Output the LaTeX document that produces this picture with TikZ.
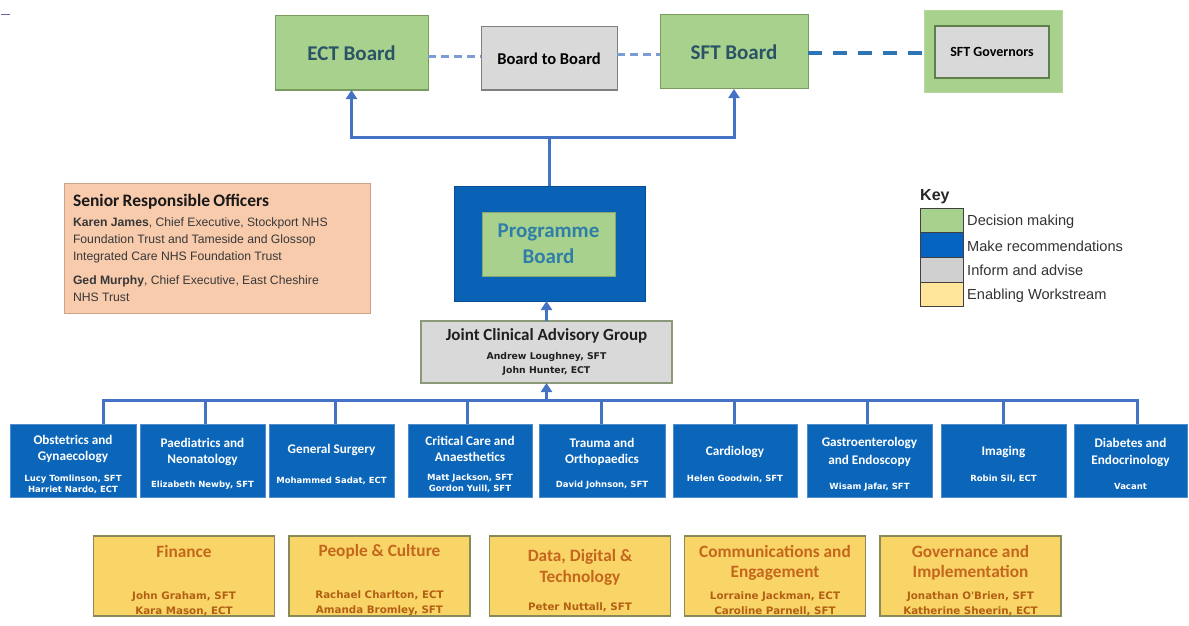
\documentclass[tikz,border=0pt]{standalone}
\usepackage{fontspec}
\setmainfont{Carlito}
\newfontfamily\arialf{Liberation Sans}
\newfontfamily\namef{DejaVu Sans}
\usetikzlibrary{arrows.meta}

\definecolor{decfill}{HTML}{A9D18E}
\definecolor{decedge}{HTML}{7A9B5E}
\definecolor{boardtext}{HTML}{2A5466}
\definecolor{progtext}{HTML}{2F7EA6}
\definecolor{infofill}{HTML}{D9D9D9}
\definecolor{infoedge}{HTML}{808080}
\definecolor{jcagedge}{HTML}{8A9A78}
\definecolor{govedge}{HTML}{5F7F4A}
\definecolor{recfill}{HTML}{0B66BA}
\definecolor{recedge}{HTML}{4F8CCB}
\definecolor{pbfill}{HTML}{0A62B6}
\definecolor{enfill}{HTML}{F9D568}
\definecolor{enedge}{HTML}{8A8A58}
\definecolor{entitle}{HTML}{C4661C}
\definecolor{enname}{HTML}{B35F14}
\definecolor{srofill}{HTML}{F8CBAD}
\definecolor{sroedge}{HTML}{C9A488}
\definecolor{linkblue}{HTML}{4472C4}
\definecolor{dashlight}{HTML}{7C9CD4}
\definecolor{dashdark}{HTML}{2E75B6}
\definecolor{keyyellow}{HTML}{FFE699}
\definecolor{keyblue}{HTML}{0563C1}
\definecolor{keygray}{HTML}{D0D0D0}

% title lines inside the boxes
\newcommand\sptitle[1]{{\rmfamily\bfseries\fontsize{13.2}{11}\selectfont #1}}
\newcommand\wstitle[1]{{\rmfamily\bfseries\fontsize{17.3}{15}\selectfont\color{entitle}#1}}

\tikzset{
  box/.style={draw, line width=1pt, inner sep=0pt, outer sep=0pt, align=center},
  decision/.style={box, fill=decfill, draw=decedge, text=boardtext,
    font=\fontsize{21}{24}\selectfont\bfseries},
  specialty/.style={box, fill=recfill, draw=recedge, minimum height=73pt},
  sptext/.style={inner sep=0pt, align=center, text=white,
    font=\namef\bfseries\fontsize{8.5}{11}\selectfont},
  workstream/.style={box, fill=enfill, draw=enedge, line width=1.5pt,
    minimum width=181pt, minimum height=80pt},
  wstext/.style={inner sep=0pt, align=center, text=enname,
    font=\namef\bfseries\fontsize{10.3}{15}\selectfont},
  swatch/.style={draw=black!75, line width=1pt, inner sep=0pt, outer sep=0pt,
    minimum width=43pt, minimum height=24.75pt},
  keylabel/.style={anchor=west, inner sep=0pt, text=black!80,
    font=\arialf\fontsize{14.6}{16}\selectfont},
  link/.style={draw=linkblue, line width=3pt},
  tip/.style={-{Triangle[width=11pt,length=9pt]}},
  lightdash/.style={draw=dashlight, line width=3pt, dash pattern=on 8pt off 5pt},
  darkdash/.style={draw=dashdark, line width=4.5pt, dash pattern=on 14pt off 11pt},
}

% a specialty box and its text, set a little below the box centre
\newcommand\specbox[4]{%
  \node[specialty, minimum width=#3] (#1) at (#2) {};
  \node[sptext] (#1-text) at ([yshift=-3.5pt]#1.center) {#4};}
% a workstream box and its text
\newcommand\wsbox[3]{%
  \node[workstream] (#1) at (#2) {};
  \node[wstext] (#1-text) at ([yshift=-4.5pt]#1.center) {#3};}

\begin{document}
\begin{tikzpicture}[x=1pt,y=-1pt]
\useasboundingbox[fill=white] (0,0) rectangle (1189,626);

% small mark in the top left corner
\draw[draw=black!55!blue!60, line width=1.5pt] (1,14.5) -- (10,14.5);

% ---- boards ----
\node[decision, minimum width=153pt, minimum height=74pt] (ect) at (351.5,53) {ECT Board};
\node[box, fill=infofill, draw=infoedge, minimum width=136pt, minimum height=63pt,
      font=\fontsize{16.5}{18}\selectfont\bfseries] (btb) at (549,58.5) {Board to Board};
\node[decision, minimum width=148pt, minimum height=74pt] (sft) at (734,52) {SFT Board};
\node[box, fill=decfill, draw=decfill!85!white, minimum width=138pt, minimum height=81pt] (govo) at (993,51.5) {};
\node[box, fill=infofill, draw=govedge, line width=1.5pt, minimum width=114pt, minimum height=52pt,
      font=\fontsize{14}{16}\selectfont\bfseries] (gov) at (992,52) {SFT Governors};

\coordinate (dashA) at (0,57);
\coordinate (dashB) at (0,55);
\coordinate (dashC) at (0,53);
\draw[lightdash] (ect.east |- dashA) -- (btb.west |- dashA);
\draw[lightdash] (btb.east |- dashB) -- (sft.west |- dashB);
\draw[darkdash] (sft.east |- dashC) -- (govo.west |- dashC);

% ---- programme board ----
\node[box, fill=pbfill, draw=pbfill!80!black, minimum width=191pt, minimum height=115pt] (pb) at (549.5,243.5) {};
\node[box, fill=decfill, draw=decfill!80!black, minimum width=133pt, minimum height=64pt,
      text=progtext, font=\fontsize{21}{26}\selectfont\bfseries] (pbin) at (548.5,244) {Programme\\Board};

\coordinate (fork) at (549.5,137);
\draw[link] (pb.north) -- (fork);
\draw[link, tip] (fork) -| (ect.south);
\draw[link, tip] (fork) -| (sft.south);

% ---- senior responsible officers ----
\node[box, fill=srofill, draw=sroedge, anchor=north west, minimum width=306pt, minimum height=130pt,
      text width=288pt, inner xsep=9pt, align=left, text=black!78] (sro) at (64,183) {%
  {\fontsize{17.5}{19}\selectfont\bfseries\color{black!90}Senior Responsible Officers\par}
  \vskip 3pt
  {\arialf\fontsize{12.2}{17}\selectfont\textbf{Karen James}, Chief Executive, Stockport NHS\\
   Foundation Trust and Tameside and Glossop\\
   Integrated Care NHS Foundation Trust\par}
  \vskip 7pt
  {\arialf\fontsize{12.2}{17}\selectfont\textbf{Ged Murphy}, Chief Executive, East Cheshire\\
   NHS Trust\par}};

% ---- key ----
\node[anchor=west, inner sep=0pt, font=\arialf\bfseries\fontsize{16}{18}\selectfont, text=black!85] (keyhead) at (920,197) {Key};
\node[swatch, fill=decfill]   (k1) at (941.5,220.4) {};
\node[swatch, fill=keyblue]   (k2) at (941.5,245.1) {};
\node[swatch, fill=keygray]   (k3) at (941.5,269.9) {};
\node[swatch, fill=keyyellow] (k4) at (941.5,294.6) {};
\node[keylabel] (kl1) at (967,221.5) {Decision making};
\node[keylabel] (kl2) at (967,246) {Make recommendations};
\node[keylabel] (kl3) at (967,270.5) {Inform and advise};
\node[keylabel] (kl4) at (967,295.5) {Enabling Workstream};

% ---- joint clinical advisory group ----
\node[box, fill=infofill, draw=jcagedge, line width=1.5pt, minimum width=251pt, minimum height=62pt,
      text=black!88, font=\namef\bfseries\fontsize{9.3}{14}\selectfont] (jcag) at (546.5,352)
  {{\rmfamily\bfseries\fontsize{17}{14}\selectfont Joint Clinical Advisory Group}\\[5pt]
   Andrew Loughney, SFT\\John Hunter, ECT};
\draw[link, tip] (jcag.north) -- (jcag.north |- pb.south);

% ---- clinical specialties ----
\specbox{ob}{73,460.5}{126pt}
  {\sptitle{Obstetrics and}\\[5pt]\sptitle{Gynaecology}\\[10pt]Lucy Tomlinson, SFT\\Harriet Nardo, ECT}
\specbox{pa}{202.5,460.5}{125pt}
  {\sptitle{Paediatrics and}\\[5pt]\sptitle{Neonatology}\\[13pt]Elizabeth Newby, SFT}
\specbox{gs}{331.5,460.5}{125pt}
  {\sptitle{General Surgery}\\[19pt]Mohammed Sadat, ECT}
\specbox{cc}{470,460.5}{124pt}
  {\sptitle{Critical Care and}\\[5pt]\sptitle{Anaesthetics}\\[8pt]Matt Jackson, SFT\\Gordon Yuill, SFT}
\specbox{tr}{602,460.5}{126pt}
  {\sptitle{Trauma and}\\[5pt]\sptitle{Orthopaedics}\\[13pt]David Johnson, SFT}
\specbox{ca}{735,460.5}{124pt}
  {\sptitle{Cardiology}\\[15pt]Helen Goodwin, SFT}
\specbox{ga}{869.5,460.5}{125pt}
  {\sptitle{Gastroenterology}\\[6pt]\sptitle{and Endoscopy}\\[14pt]Wisam Jafar, SFT}
\specbox{im}{1003.5,460.5}{125pt}
  {\sptitle{Imaging}\\[15pt]Robin Sil, ECT}
\specbox{di}{1130.5,460.5}{113pt}
  {\sptitle{Diabetes and}\\[6pt]\sptitle{Endocrinology}\\[14pt]Vacant}

\coordinate (busL) at (103,400);
\coordinate (busR) at (1137,400);
\coordinate (busM) at (546.5,400);
\draw[link, line cap=rect] (busL) -- (busR);
\foreach \xx/\nn in {103/ob,205/pa,335/gs,467/cc,601/tr,734/ca,867/ga,1003/im,1137/di}{
  \coordinate (drop-\nn) at (\xx,400);
  \draw[link] (drop-\nn) -- (drop-\nn |- \nn.north);
}
\draw[link, tip] (busM) -- (jcag.south);

% ---- enabling workstreams ----
\wsbox{fin}{184,576}
  {\wstitle{Finance}\\[27pt]John Graham, SFT\\Kara Mason, ECT}
\wsbox{ppl}{379.5,576}
  {\wstitle{People \& Culture}\\[27pt]Rachael Charlton, ECT\\Amanda Bromley, SFT}
\wsbox{ddt}{580,576}
  {\wstitle{Data, Digital \&}\\[5pt]\wstitle{Technology}\\[13pt]Peter Nuttall, SFT}
\wsbox{com}{775,576}
  {\wstitle{Communications and}\\[5pt]\wstitle{Engagement}\\[7pt]Lorraine Jackman, ECT\\Caroline Parnell, SFT}
\wsbox{gim}{970.5,576}
  {\wstitle{Governance and}\\[5pt]\wstitle{Implementation}\\[7pt]Jonathan O'Brien, SFT\\Katherine Sheerin, ECT}

\end{tikzpicture}
\end{document}
